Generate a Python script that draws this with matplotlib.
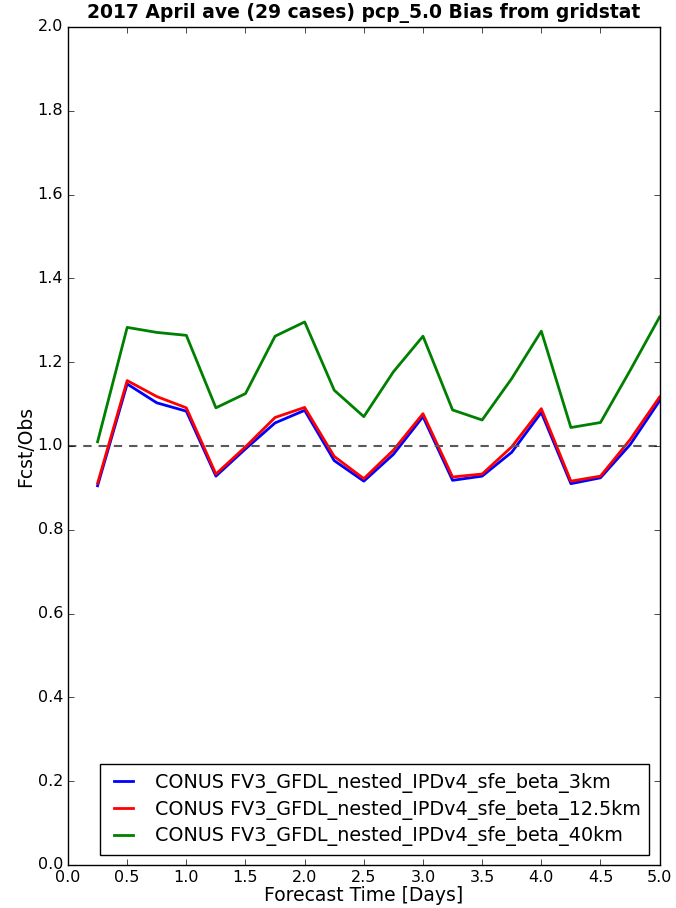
import matplotlib
matplotlib.use('Agg')
import matplotlib.pyplot as plt

plt.style.use('classic')

days = [0.25, 0.5, 0.75, 1.0, 1.25, 1.5, 1.75, 2.0, 2.25, 2.5,
        2.75, 3.0, 3.25, 3.5, 3.75, 4.0, 4.25, 4.5, 4.75, 5.0]

bias_3km = [0.905, 1.148, 1.103, 1.083, 0.928, 0.993, 1.055, 1.085, 0.965, 0.916,
            0.980, 1.070, 0.918, 0.928, 0.985, 1.080, 0.910, 0.924, 1.003, 1.108]
bias_12km = [0.911, 1.156, 1.118, 1.091, 0.933, 0.998, 1.068, 1.092, 0.975, 0.922,
             0.990, 1.077, 0.926, 0.933, 0.998, 1.089, 0.916, 0.928, 1.015, 1.117]
bias_40km = [1.010, 1.283, 1.271, 1.264, 1.091, 1.125, 1.262, 1.296, 1.133, 1.070,
             1.177, 1.262, 1.086, 1.062, 1.161, 1.274, 1.044, 1.056, 1.180, 1.308]

labels = ['CONUS FV3_GFDL_nested_IPDv4_sfe_beta_3km',
          'CONUS FV3_GFDL_nested_IPDv4_sfe_beta_12.5km',
          'CONUS FV3_GFDL_nested_IPDv4_sfe_beta_40km']

fig = plt.figure(figsize=(6.76, 9.08), dpi=100, facecolor='white')
ax = fig.add_axes([0.1006, 0.0474, 0.8752, 0.9229])

ax.plot(days, bias_3km, color='#0000ff', lw=2, label=labels[0])
ax.plot(days, bias_12km, color='#ff0000', lw=2, label=labels[1])
ax.plot(days, bias_40km, color='#008000', lw=2, label=labels[2])
ax.axhline(1.0, color='0.35', ls='--', lw=1.5, dashes=(6, 5))

ax.set_xlim(0, 5)
ax.set_ylim(0, 2)
ax.set_xticks([i * 0.5 for i in range(11)])
ax.set_yticks([i * 0.2 for i in range(11)])
ax.tick_params(labelsize=11.5, pad=3.5)

ax.set_title('2017 April ave (29 cases) pcp_5.0 Bias from gridstat',
             fontsize=13.5, fontweight='bold', y=1.003)
ax.set_xlabel('Forecast Time [Days]', fontsize=13.5, labelpad=1)
ax.set_ylabel('Fcst/Obs', fontsize=13.5, labelpad=2)

ax.legend(loc='lower left', bbox_to_anchor=(0.054, 0.012), borderaxespad=0,
          fontsize=13.8, handlelength=1.6, borderpad=0.45, labelspacing=0.35,
          frameon=True)

fig.savefig('out.png', dpi=100, facecolor='white')
